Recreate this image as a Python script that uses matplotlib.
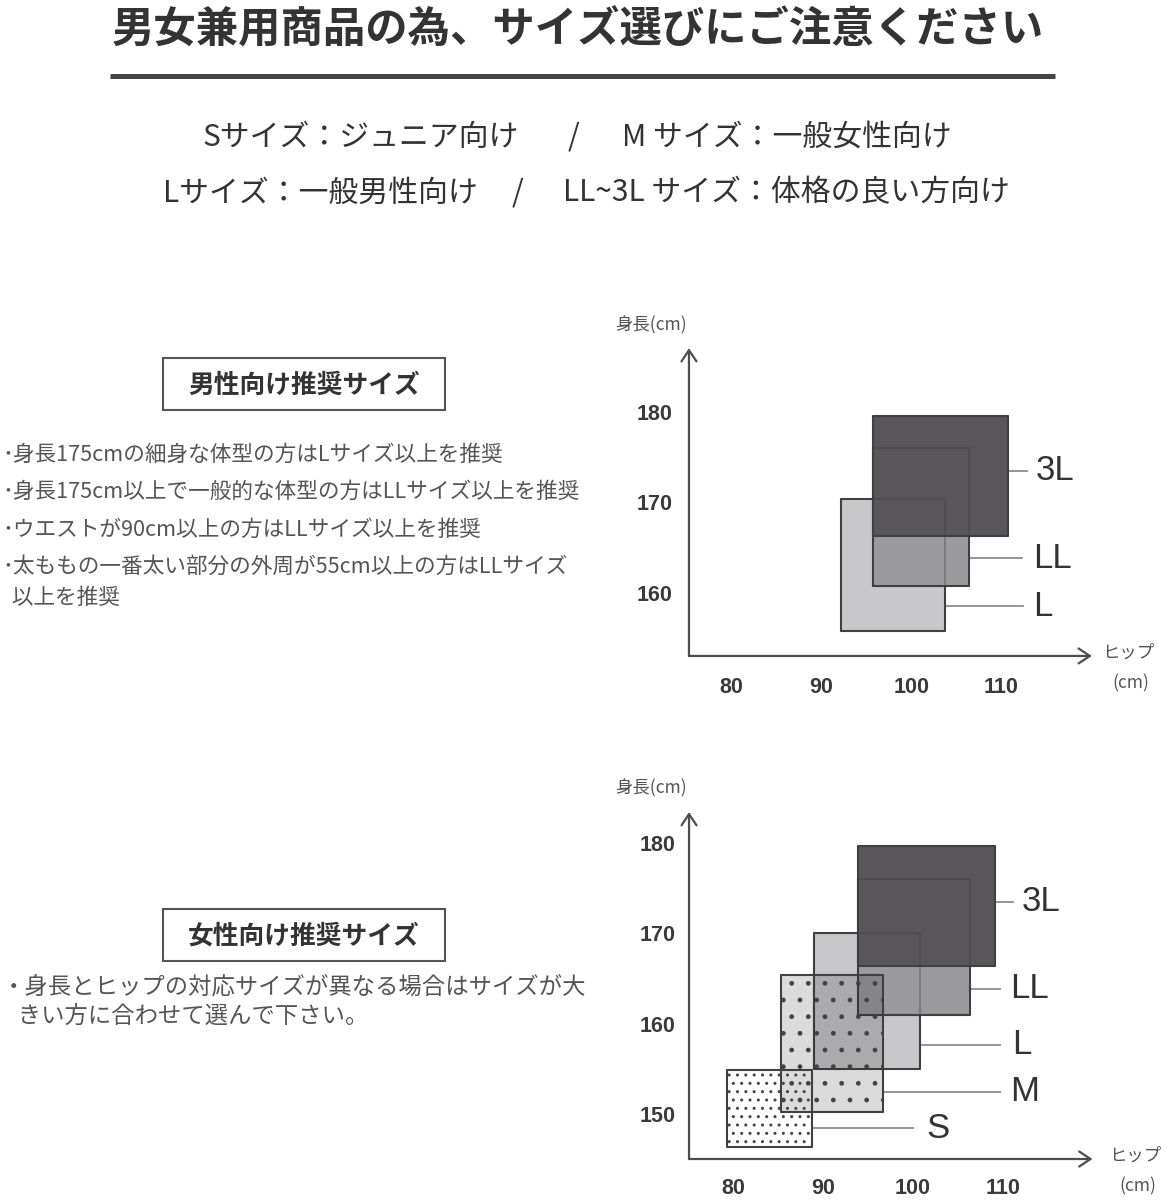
import matplotlib
matplotlib.use("Agg")
import matplotlib.pyplot as plt
from matplotlib.patches import Rectangle


plt.rcParams["font.family"] = ["Noto Sans CJK JP", "DejaVu Sans"]
plt.rcParams["hatch.linewidth"] = 1.0

W, H = 1168, 1200

# ---- data (hip cm / height cm) ----
men_sizes = ["L", "LL", "3L"]
men_hip_min = [92.2, 95.7, 95.7]
men_hip_max = [103.8, 106.4, 110.8]
men_height_min = [155.9, 160.8, 166.3]
men_height_max = [170.4, 176.0, 179.5]

women_sizes = ["S", "M", "L", "LL", "3L"]
women_hip_min = [79.3, 85.3, 89.0, 93.9, 93.9]
women_hip_max = [88.8, 96.7, 100.8, 106.4, 109.1]
women_height_min = [146.4, 150.2, 155.0, 160.95, 166.4]
women_height_max = [154.9, 165.4, 170.0, 176.0, 179.6]

men_yticks = [160, 170, 180]
women_yticks = [150, 160, 170, 180]
hip_ticks = [80, 90, 100, 110]

title = "男女兼用商品の為、サイズ選びにご注意ください"
guide_line1 = ["Sサイズ：ジュニア向け", "/", "M サイズ：一般女性向け"]
guide_line2 = ["Lサイズ：一般男性向け", "/", "LL~3L サイズ：体格の良い方向け"]

men_heading = "男性向け推奨サイズ"
men_notes = [
    "･身長175cmの細身な体型の方はLサイズ以上を推奨",
    "･身長175cm以上で一般的な体型の方はLLサイズ以上を推奨",
    "･ウエストが90cm以上の方はLLサイズ以上を推奨",
    "･太ももの一番太い部分の外周が55cm以上の方はLLサイズ",
    "  以上を推奨",
]
women_heading = "女性向け推奨サイズ"
women_notes = [
    "・身長とヒップの対応サイズが異なる場合はサイズが大",
    "   きい方に合わせて選んで下さい。",
]

# ---- label layout (leader y, leader end x, text x) ----
men_leader_y = [158.6, 163.85, 173.5]
men_leader_end = [112.4, 112.3, 112.85]
men_text_x = [113.6, 113.6, 113.8]

women_leader_y = [148.45, 152.5, 157.7, 163.9, 173.5]
women_leader_end = [100.0, 109.7, 109.7, 109.7, 111.2]
women_text_x = [101.5, 110.8, 111.0, 110.8, 112.1]

size_style = {
    "S": dict(fc=(1, 1, 1, 0), hatch="..", z=6),
    "M": dict(fc=(0, 0, 0, 0.14), hatch=".", z=5),
    "L": dict(fc="#c8c8cb", hatch=None, z=2),
    "LL": dict(fc="#9b9a9d", hatch=None, z=3),
    "3L": dict(fc="#58565a", hatch=None, z=4),
}

TXT = "#333333"
GREY = "#555555"


fig = plt.figure(figsize=(W / 100, H / 100), dpi=100)

bg = fig.add_axes([0, 0, 1, 1])
bg.set_xlim(0, W)
bg.set_ylim(H, 0)
bg.axis("off")

# header
bg.text(578, 31, title, ha="center", va="center", fontsize=30.5,
        fontweight="bold", color=TXT)
bg.plot([110, 1055], [76, 76], color="#444444", lw=3.6, solid_capstyle="butt")

bg.text(203, 137, guide_line1[0], ha="left", va="center", fontsize=21.5, color=TXT)
bg.text(574, 137, guide_line1[1], ha="center", va="center", fontsize=21.5, color=TXT)
bg.text(622, 137, guide_line1[2], ha="left", va="center", fontsize=21.5, color=TXT)
bg.text(163, 193, guide_line2[0], ha="left", va="center", fontsize=21.5, color=TXT)
bg.text(518, 193, guide_line2[1], ha="center", va="center", fontsize=21.5, color=TXT)
bg.text(563, 193, guide_line2[2], ha="left", va="center", fontsize=21.5, color=TXT)


def heading_box(y_top, y_bot, label):
    bg.add_patch(Rectangle((163, y_top), 282, y_bot - y_top, fill=False,
                           ec="#555555", lw=1.5))
    bg.text(304, (y_top + y_bot) / 2 + 1, label, ha="center", va="center",
            fontsize=18.5, fontweight="bold", color=TXT)


heading_box(358, 410, men_heading)
men_note_y = [455, 492, 530, 567, 598]
for line, y in zip(men_notes, men_note_y):
    bg.text(2, y, line, ha="left", va="center", fontsize=15.6, color=GREY)

heading_box(909, 961, women_heading)
women_note_y = [987, 1017]
for line, y in zip(women_notes, women_note_y):
    bg.text(2, y, line, ha="left", va="center", fontsize=16.8, color=GREY)


def chart_axes(x_ref_px, x_ref, x_scale, y_ref_px, y_ref, y_scale, xlim, ylim):
    left = x_ref_px + (xlim[0] - x_ref) * x_scale
    right = x_ref_px + (xlim[1] - x_ref) * x_scale
    top = y_ref_px - (ylim[1] - y_ref) * y_scale
    bottom = y_ref_px - (ylim[0] - y_ref) * y_scale
    ax = fig.add_axes([left / W, 1 - bottom / H, (right - left) / W,
                       (bottom - top) / H])
    ax.set_xlim(*xlim)
    ax.set_ylim(*ylim)
    ax.patch.set_visible(False)
    for s in ax.spines.values():
        s.set_visible(False)
    return ax


def draw_chart(ax, sizes, hmin, hmax, vmin, vmax, yticks, lead_y, lead_end,
               text_x, xpad, ypad):
    x0, x1 = ax.get_xlim()
    y0, y1 = ax.get_ylim()
    arrow = dict(arrowstyle="->,head_length=0.45,head_width=0.3", lw=1.6,
                 color="#4d4d4d", shrinkA=0, shrinkB=0, mutation_scale=18)
    ax.annotate("", xy=(x1, y0), xytext=(x0, y0), arrowprops=arrow,
                annotation_clip=False)
    ax.annotate("", xy=(x0, y1), xytext=(x0, y0), arrowprops=arrow,
                annotation_clip=False)

    for i, name in enumerate(sizes):
        st = size_style[name]
        ax.add_patch(Rectangle((hmin[i], vmin[i]), hmax[i] - hmin[i],
                               vmax[i] - vmin[i], facecolor=st["fc"],
                               edgecolor="#444444", lw=1.5, hatch=st["hatch"],
                               zorder=st["z"], joinstyle="round"))
        # faint outline so hidden edges show through like the original
        ax.add_patch(Rectangle((hmin[i], vmin[i]), hmax[i] - hmin[i],
                               vmax[i] - vmin[i], fill=False,
                               edgecolor="#3a3a3a", lw=1.3, alpha=0.35,
                               zorder=7))
        ax.plot([hmax[i], lead_end[i]], [lead_y[i], lead_y[i]],
                color="#8c8c8c", lw=1.3, zorder=1, clip_on=False)
        ax.text(text_x[i], lead_y[i], name, ha="left", va="center",
                fontsize=25, color=TXT, family="Liberation Sans",
                clip_on=False)

    ax.set_xticks(hip_ticks)
    ax.set_yticks(yticks)
    ax.tick_params(axis="x", length=0, pad=xpad)
    ax.tick_params(axis="y", length=0, pad=ypad)
    ax.tick_params(labelsize=15.5, labelcolor="#3a3a3a",
                   labelfontfamily="Liberation Sans")
    for lab in ax.get_xticklabels() + ax.get_yticklabels():
        lab.set_fontweight("bold")


ax1 = chart_axes(731.7, 80, 8.98, 593.3, 160, 9.08, (75.24, 120.1), (153.1, 187.0))
draw_chart(ax1, men_sizes, men_hip_min, men_hip_max, men_height_min,
           men_height_max, men_yticks, men_leader_y, men_leader_end,
           men_text_x, 15, 11.5)

ax2 = chart_axes(733.3, 80, 8.98, 1114.3, 150, 9.05, (75.07, 120.0), (145.06, 183.4))
draw_chart(ax2, women_sizes, women_hip_min, women_hip_max, women_height_min,
           women_height_max, women_yticks, women_leader_y, women_leader_end,
           women_text_x, 14, 9.5)

# axis captions
for y_cap, y_hip, x_hip in [(325, 653, 1128), (788, 1156, 1135)]:
    bg.text(651, y_cap, "身長(cm)", ha="center", va="center", fontsize=12.5,
            color=GREY)
    bg.text(x_hip, y_hip, "ヒップ", ha="center", va="center", fontsize=12.5,
            color=GREY)
    bg.text(x_hip + 3, y_hip + 30, "(cm)", ha="center", va="center",
            fontsize=12.5, color=GREY)

fig.savefig("out.png", dpi=100, facecolor="white")
